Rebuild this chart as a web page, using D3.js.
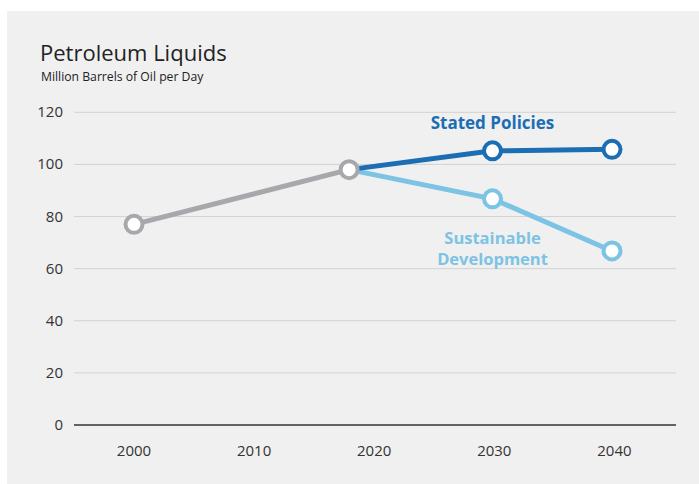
<!DOCTYPE html>
<html>
<head>
<meta charset="utf-8">
<script src="https://cdn.jsdelivr.net/npm/d3@7"></script>
<style>
  body { margin: 0; background: #fff; }
  svg { display: block; font-family: "Open Sans", "Noto Sans", sans-serif; }
</style>
</head>
<body>
<div id="chart"></div>
<script>
// data
var historical = [[2000, 77], [2018, 98]];
var statedPolicies = [[2018, 98], [2030, 105.2], [2040, 105.8]];
var sustainableDev = [[2018, 98], [2030, 86.8], [2040, 66.8]];
var yTicks = [0, 20, 40, 60, 80, 100, 120];
var xTicks = [2000, 2010, 2020, 2030, 2040];

var width = 699, height = 484;

var svg = d3.select("#chart").append("svg")
    .attr("width", width)
    .attr("height", height);

svg.append("rect")
    .attr("x", 7).attr("y", 11)
    .attr("width", width - 7).attr("height", height - 11)
    .attr("fill", "#f0f0f0");

var x = d3.scaleLinear().domain([2000, 2040]).range([134, 612]);
var y = d3.scaleLinear().domain([0, 120]).range([425, 112.3]);

// gridlines
svg.append("g").selectAll("line")
    .data(yTicks.filter(function(d){ return d > 0; }))
  .enter().append("line")
    .attr("x1", 74).attr("x2", 676)
    .attr("y1", function(d){ return y(d); })
    .attr("y2", function(d){ return y(d); })
    .attr("stroke", "#d2d2d2")
    .attr("stroke-width", 1);

// baseline
svg.append("line")
    .attr("x1", 74).attr("x2", 676)
    .attr("y1", y(0)).attr("y2", y(0))
    .attr("stroke", "#333")
    .attr("stroke-width", 1.3);

// y tick labels
svg.append("g").selectAll("text")
    .data(yTicks)
  .enter().append("text")
    .attr("x", 63)
    .attr("y", function(d){ return y(d) + 5; })
    .attr("text-anchor", "end")
    .attr("font-size", 15)
    .attr("fill", "#333")
    .text(function(d){ return d; });

// x tick labels
svg.append("g").selectAll("text")
    .data(xTicks)
  .enter().append("text")
    .attr("x", function(d){ return x(d) + (d - 2000) * 0.06; })
    .attr("y", 456)
    .attr("text-anchor", "middle")
    .attr("font-size", 15)
    .attr("fill", "#333")
    .text(function(d){ return d; });

var line = d3.line()
    .x(function(d){ return x(d[0]); })
    .y(function(d){ return y(d[1]); });

function drawSeries(data, color) {
  svg.append("path")
      .datum(data)
      .attr("d", line)
      .attr("fill", "none")
      .attr("stroke", color)
      .attr("stroke-width", 5);
}

drawSeries(sustainableDev, "#7cc3e4");
drawSeries(statedPolicies, "#1b6db4");
drawSeries(historical, "#a7a8ab");

function drawPoints(data, color) {
  svg.append("g").selectAll("circle")
      .data(data)
    .enter().append("circle")
      .attr("cx", function(d){ return x(d[0]); })
      .attr("cy", function(d){ return y(d[1]); })
      .attr("r", 8.5)
      .attr("fill", "#fff")
      .attr("stroke", color)
      .attr("stroke-width", 4);
}

drawPoints(sustainableDev.slice(1), "#7cc3e4");
drawPoints(statedPolicies.slice(1), "#1b6db4");
drawPoints(historical, "#a7a8ab");

// titles
svg.append("text")
    .attr("x", 40).attr("y", 61)
    .attr("font-size", 22)
    .attr("fill", "#222")
    .text("Petroleum Liquids");

svg.append("text")
    .attr("x", 41).attr("y", 81)
    .attr("font-size", 12.2)
    .attr("fill", "#222")
    .text("Million Barrels of Oil per Day");

// series labels
svg.append("text")
    .attr("x", x(2030)).attr("y", 129)
    .attr("text-anchor", "middle")
    .attr("font-size", 17)
    .attr("font-weight", "bold")
    .attr("fill", "#1b6db4")
    .text("Stated Policies");

var sd = svg.append("text")
    .attr("text-anchor", "middle")
    .attr("font-size", 16.5)
    .attr("font-weight", "bold")
    .attr("fill", "#7cc3e4");
sd.append("tspan").attr("x", x(2030)).attr("y", 243.5).text("Sustainable");
sd.append("tspan").attr("x", x(2030)).attr("y", 264.5).text("Development");
</script>
</body>
</html>
